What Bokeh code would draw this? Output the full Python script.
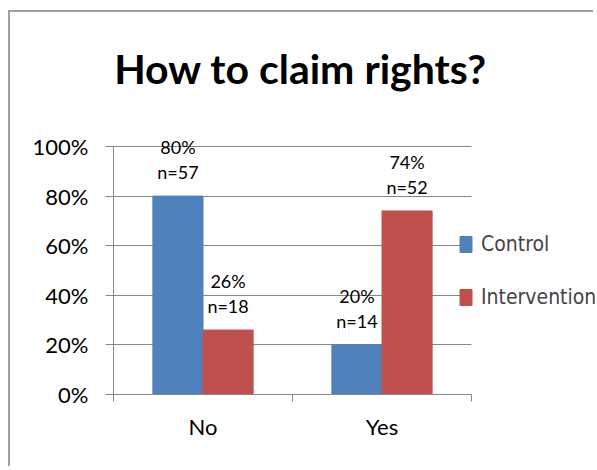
from bokeh.plotting import figure
from bokeh.models import (ColumnDataSource, Range1d, LinearAxis, Grid,
                          FixedTicker, NumeralTickFormatter, Legend, LegendItem, Label)
from bokeh.transform import dodge
from bokeh.core.properties import value
from bokeh.embed import file_html
from bokeh.resources import INLINE

# ---- data ----
categories = ["No", "Yes"]
series = ["Control", "Intervention"]
control = [0.80, 0.20]
intervention = [0.26, 0.74]
control_n = [57, 14]
intervention_n = [18, 52]
y_ticks = [0, 0.2, 0.4, 0.6, 0.8, 1.0]
title_text = "How to claim rights?"

colors = ["#4F81BD", "#C0504D"]
FONT = "Lato"
LEGEND_FONT = "'DejaVu Sans Condensed', Roboto, sans-serif"
GRAY = "#868686"

n = len(categories)
centers = [i + 0.5 for i in range(n)]
src = ColumnDataSource(dict(
    xc=centers,
    control=control,
    intervention=intervention,
    control_pct=[f"{round(v * 100)}%" for v in control],
    intervention_pct=[f"{round(v * 100)}%" for v in intervention],
    control_n=[f"n={k}" for k in control_n],
    intervention_n=[f"n={k}" for k in intervention_n],
))

# layout (pixels)
W, H = 585, 456
ML, MT, MB, MR = 103, 10, 74, 0
frame_w = W - ML - MR
frame_h = H - MT - MB
unit_x = 179.0          # px per category
unit_y = 248.0          # px per 100%
x_end = frame_w / unit_x
y_end = frame_h / unit_y

p = figure(width=W, height=H, x_range=Range1d(0, x_end), y_range=Range1d(0, y_end),
           output_backend="svg", toolbar_location=None, x_axis_location=None,
           min_border_left=ML, min_border_right=MR,
           min_border_top=MT, min_border_bottom=MB)
p.margin = (10, 0, 0, 8)
p.styles = {"border-top": "2px solid #A0A0A0", "border-left": "2px solid #A0A0A0"}
p.outline_line_color = None
p.background_fill_color = "white"
p.border_fill_color = "white"

# y axis
ya = p.yaxis[0]
ya.bounds = (0, 1)
ya.ticker = FixedTicker(ticks=y_ticks)
ya.formatter = NumeralTickFormatter(format="0%")
ya.axis_line_color = GRAY
ya.major_tick_line_color = GRAY
ya.major_tick_out = 8
ya.major_tick_in = 0
ya.minor_tick_line_color = None
ya.major_label_standoff = 17
ya.major_label_text_font = FONT
ya.major_label_text_font_size = "22px"
ya.major_label_text_color = "black"

p.xgrid.visible = False
yg = p.ygrid[0]
yg.grid_line_color = GRAY
yg.ticker = FixedTicker(ticks=y_ticks)
yg.bounds = (0, 1)
if "cross_bounds" in Grid.properties():
    yg.cross_bounds = (0, n)
else:
    yg.visible = False
    p.segment(x0=0, x1=n, y0=y_ticks, y1=y_ticks, line_color=GRAY, line_width=1)

# x axis: labels at category centres, tick marks at category edges
xa = LinearAxis(ticker=FixedTicker(ticks=centers, minor_ticks=list(range(n + 1))),
                major_label_overrides={c: lab for c, lab in zip(centers, categories)},
                bounds=(0, n))
xa.axis_line_color = GRAY
xa.major_tick_line_color = None
xa.major_tick_out = 0
xa.major_tick_in = 0
xa.minor_tick_line_color = GRAY
xa.minor_tick_out = 7
xa.minor_tick_in = 0
xa.major_label_standoff = 11
xa.major_label_text_font = FONT
xa.major_label_text_font_size = "22px"
xa.major_label_text_color = "black"
p.add_layout(xa, "below")

# bars
off = 0.14
bw = 0.28
r1 = p.vbar(x=dodge("xc", -off), top="control", width=bw,
            source=src, fill_color=colors[0], line_color=colors[0])
r2 = p.vbar(x=dodge("xc", off), top="intervention", width=bw,
            source=src, fill_color=colors[1], line_color=colors[1])

# data labels
for key, d in (("control", -off), ("intervention", off)):
    p.text(x=dodge("xc", d), y=key, text=key + "_pct", source=src,
           y_offset=-49, text_align="center", text_baseline="middle",
           text_font=value(FONT), text_font_size="18px", text_color="black")
    p.text(x=dodge("xc", d), y=key, text=key + "_n", source=src,
           y_offset=-24, text_align="center", text_baseline="middle",
           text_font=value(FONT), text_font_size="18px", text_color="black")

# legend
legend = Legend(items=[LegendItem(label=series[0], renderers=[r1]),
                       LegendItem(label=series[1], renderers=[r2])],
                location=(345, 85), orientation="vertical",
                glyph_width=15, glyph_height=20, label_standoff=8,
                label_text_font=LEGEND_FONT, label_text_font_size="21px",
                spacing=29, padding=0, margin=0,
                border_line_alpha=0, background_fill_alpha=0)
p.add_layout(legend, "center")

# title (frame-relative screen position)
p.add_layout(Label(x=187, y=326, x_units="screen", y_units="screen", text=title_text,
                   text_align="center", text_baseline="alphabetic", text_font=FONT,
                   text_font_style="bold", text_font_size="41px", text_color="black"))

open("out.html", "w").write(file_html(p, INLINE))
